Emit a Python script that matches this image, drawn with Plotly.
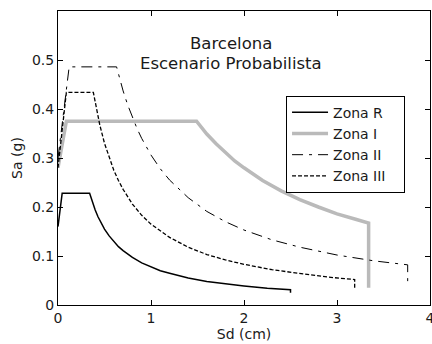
import plotly.graph_objects as go

# Zona R (solid black)
sd_r = [0.0, 0.045, 0.34, 0.36, 0.38, 0.40, 0.43, 0.46, 0.50, 0.55, 0.60, 0.65, 0.70, 0.80, 0.90, 1.00, 1.10, 1.20, 1.40, 1.60, 1.80, 2.00, 2.25, 2.50, 2.50]
sa_r = [0.16, 0.228, 0.228, 0.215, 0.204, 0.194, 0.180, 0.168, 0.155, 0.141, 0.129, 0.119, 0.111, 0.097, 0.086, 0.078, 0.070, 0.065, 0.055, 0.048, 0.043, 0.039, 0.034, 0.031, 0.025]

# Zona I (thick gray)
sd_1 = [0.0, 0.09, 1.49, 1.55, 1.60, 1.70, 1.80, 1.90, 2.00, 2.20, 2.40, 2.60, 2.80, 3.00, 3.20, 3.34, 3.34]
sa_1 = [0.28, 0.375, 0.375, 0.361, 0.349, 0.329, 0.311, 0.294, 0.280, 0.254, 0.233, 0.215, 0.200, 0.186, 0.175, 0.167, 0.035]

# Zona II (dash-dot)
sd_2 = [0.0, 0.12, 0.63, 0.66, 0.70, 0.75, 0.80, 0.85, 0.90, 1.00, 1.10, 1.20, 1.40, 1.60, 1.80, 2.00, 2.30, 2.60, 3.00, 3.40, 3.76, 3.76]
sa_2 = [0.30, 0.486, 0.486, 0.464, 0.437, 0.408, 0.383, 0.360, 0.340, 0.306, 0.278, 0.255, 0.219, 0.191, 0.170, 0.153, 0.133, 0.118, 0.102, 0.090, 0.082, 0.040]

# Zona III (dashed)
sd_3 = [0.0, 0.09, 0.38, 0.40, 0.42, 0.45, 0.50, 0.55, 0.60, 0.65, 0.70, 0.80, 0.90, 1.00, 1.20, 1.40, 1.60, 1.80, 2.00, 2.30, 2.60, 2.90, 3.19, 3.19]
sa_3 = [0.28, 0.434, 0.434, 0.413, 0.393, 0.367, 0.330, 0.300, 0.275, 0.254, 0.236, 0.206, 0.183, 0.165, 0.138, 0.118, 0.103, 0.092, 0.083, 0.072, 0.064, 0.057, 0.052, 0.032]

series_names = ["Zona R", "Zona I", "Zona II", "Zona III"]
x_ticks = [0, 1, 2, 3, 4]
y_ticks = [0, 0.1, 0.2, 0.3, 0.4, 0.5]
y_tick_labels = ["0", "0.1", "0.2", "0.3", "0.4", "0.5"]

FONT = "DejaVu Sans"
TXT = "#1a1a1a"
PAD = "\u00a0\u00a0\u00a0"

fig = go.Figure()
fig.add_trace(go.Scatter(x=sd_r, y=sa_r, mode="lines", name=series_names[0] + PAD,
                         line=dict(color="black", width=1.5)))
fig.add_trace(go.Scatter(x=sd_1, y=sa_1, mode="lines", name=series_names[1] + PAD,
                         line=dict(color="#bababa", width=3.5)))
fig.add_trace(go.Scatter(x=sd_2, y=sa_2, mode="lines", name=series_names[2] + PAD,
                         line=dict(color="black", width=1, dash="11px,6px,3px,6px")))
fig.add_trace(go.Scatter(x=sd_3, y=sa_3, mode="lines", name=series_names[3] + PAD,
                         line=dict(color="black", width=1.3, dash="4px,2px")))

axis_common = dict(showline=True, linecolor="black", linewidth=1, mirror="ticks",
                   ticks="inside", ticklen=5, tickcolor="black", showgrid=False,
                   zeroline=False, automargin=False, ticklabeloverflow="allow",
                   tickfont=dict(family=FONT, size=14, color=TXT))

fig.update_xaxes(range=[0, 4], tickvals=x_ticks, ticktext=[str(v) for v in x_ticks],
                 title=dict(text="Sd (cm)", font=dict(family=FONT, size=14, color=TXT), standoff=2),
                 **axis_common)
fig.update_yaxes(range=[0, 0.6], tickvals=y_ticks, ticktext=y_tick_labels,
                 title=dict(text="Sa (g)", font=dict(family=FONT, size=14, color=TXT), standoff=6),
                 **axis_common)

fig.add_annotation(text="Barcelona", xref="paper", yref="paper", x=0.465, y=0.888,
                   showarrow=False, xanchor="center", yanchor="middle",
                   font=dict(family=FONT, size=16.5, color=TXT))
fig.add_annotation(text="Escenario Probabilista", xref="paper", yref="paper", x=0.465, y=0.823,
                   showarrow=False, xanchor="center", yanchor="middle",
                   font=dict(family=FONT, size=16.5, color=TXT))

fig.update_layout(
    width=432, height=344,
    margin=dict(l=58, r=2, t=11, b=39),
    paper_bgcolor="white", plot_bgcolor="white",
    legend=dict(x=0.613, y=0.712, xanchor="left", yanchor="top",
                bgcolor="white", bordercolor="black", borderwidth=1,
                font=dict(family=FONT, size=14, color=TXT),
                itemwidth=36, tracegroupgap=0),
    showlegend=True,
)

fig.write_html("out.html", config={"displayModeBar": False},
               post_script="document.body.style.margin='0';")
